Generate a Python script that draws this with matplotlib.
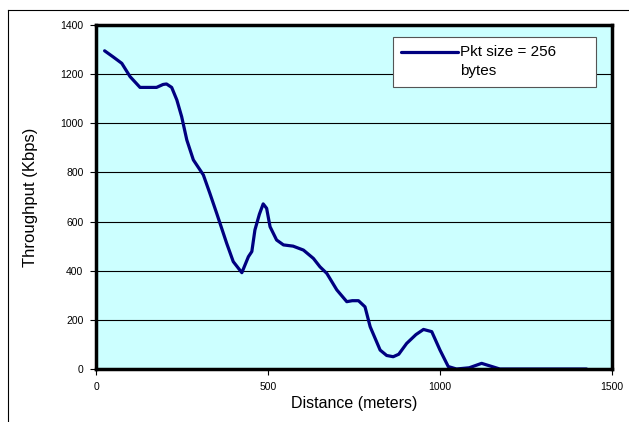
import matplotlib
matplotlib.use("Agg")
import matplotlib.pyplot as plt
from matplotlib.lines import Line2D

plt.rcParams['font.family'] = ['Liberation Sans', 'DejaVu Sans']

# distance (m) and throughput (Kbps)
distance = [25, 50, 75, 99, 128, 150, 176, 195, 205, 220, 235, 249, 264, 283,
            312, 331, 351, 380, 399, 424, 443, 453, 462, 475, 486, 496, 506,
            525, 545, 573, 603, 632, 651, 671, 700, 729, 745, 763, 782, 797,
            826, 845, 864, 880, 903, 930, 952, 976, 1000, 1024, 1048, 1085,
            1121, 1174, 1300, 1426]
throughput = [1295, 1270, 1244, 1190, 1146, 1146, 1146, 1158, 1160, 1146,
              1095, 1027, 932, 851, 790, 715, 633, 511, 437, 392, 457, 478,
              566, 630, 672, 654, 579, 525, 505, 500, 484, 450, 416, 389,
              322, 274, 278, 278, 253, 172, 77, 55, 50, 60, 104, 140, 161,
              152, 77, 10, 0, 5, 23, 0, 0, 0]

xticks = [0, 500, 1000, 1500]
yticks = [0, 200, 400, 600, 800, 1000, 1200, 1400]

fig = plt.figure(figsize=(6.29, 4.22), dpi=100)
ax = fig.add_axes([96 / 629, 1 - 369 / 422, (612 - 96) / 629, (369 - 25) / 422])
ax.set_facecolor('#CCFFFF')

ax.plot(distance, throughput, color='#000080', linewidth=2.3,
        label='Pkt size = 256\nbytes', solid_capstyle='round')

ax.set_xlim(0, 1500)
ax.set_ylim(0, 1400)
ax.set_xticks(xticks)
ax.set_yticks(yticks)
ax.tick_params(labelsize=7.5, length=4, width=0.8, direction='out', pad=5)
ax.yaxis.grid(True, color='black', linewidth=0.8)
ax.set_axisbelow(True)
for side in ax.spines.values():
    side.set_linewidth(2.5)

ax.set_xlabel('Distance (meters)', fontsize=11.5, labelpad=3)
ax.set_ylabel('Throughput (Kbps)', fontsize=12, labelpad=16)

leg = ax.legend(loc='upper left', bbox_to_anchor=(0.5756, 0.965, 0.3934, 0.0),
                mode='expand', fontsize=11, frameon=True, fancybox=False,
                handlelength=3.7, handletextpad=0.15, borderpad=0.55,
                borderaxespad=0.0, framealpha=1)
leg.get_frame().set_edgecolor('#555555')
leg.get_frame().set_linewidth(0.8)
leg.get_texts()[0].set_linespacing(1.45)
# legend line sits level with the first text line, as in the original
handle = leg.get_lines()[0]
handle.set_ydata([v + 7 for v in handle.get_ydata()])

# outer chart frame (top and left edges visible)
fig.add_artist(Line2D([8 / 629, 628 / 629], [1 - 10 / 422, 1 - 10 / 422],
                      color='black', linewidth=0.8))
fig.add_artist(Line2D([8 / 629, 8 / 629], [1 - 10 / 422, 0],
                      color='black', linewidth=0.8))

fig.savefig('out.png', dpi=100)
